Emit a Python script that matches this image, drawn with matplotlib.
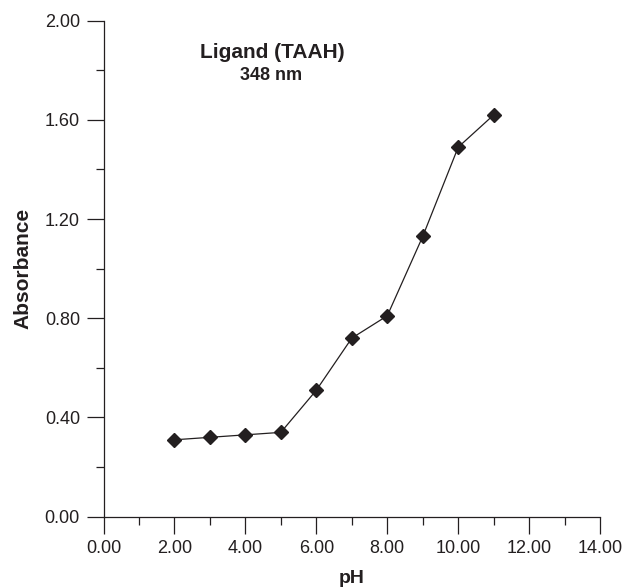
import matplotlib
matplotlib.use('Agg')
import matplotlib.pyplot as plt
from matplotlib.ticker import MultipleLocator, FormatStrFormatter

ph = [2, 3, 4, 5, 6, 7, 8, 9, 10, 11]
absorbance = [0.31, 0.32, 0.33, 0.34, 0.51, 0.72, 0.81, 1.13, 1.49, 1.62]

ink = '#231f20'
plt.rcParams['font.family'] = ['Liberation Sans', 'DejaVu Sans']

fig = plt.figure(figsize=(6.29, 5.88), dpi=100)
ax = fig.add_axes([0.1646, 0.1213, 0.7894, 0.8435])

ax.plot(ph, absorbance, color=ink, lw=0.9, marker='D', ms=7.5,
        mfc=ink, mec=ink, clip_on=False)

ax.set_xlim(0, 14)
ax.set_ylim(0, 2.0)
ax.xaxis.set_major_locator(MultipleLocator(2))
ax.xaxis.set_minor_locator(MultipleLocator(1))
ax.yaxis.set_major_locator(MultipleLocator(0.4))
ax.yaxis.set_minor_locator(MultipleLocator(0.2))
ax.xaxis.set_major_formatter(FormatStrFormatter('%.2f'))
ax.yaxis.set_major_formatter(FormatStrFormatter('%.2f'))

for side in ['top', 'right']:
    ax.spines[side].set_visible(False)
for side in ['left', 'bottom']:
    ax.spines[side].set_color(ink)
    ax.spines[side].set_linewidth(0.9)

ax.tick_params(which='major', length=12, width=0.9, color=ink,
               labelsize=13, labelcolor=ink, pad=5)
ax.tick_params(which='minor', length=6, width=0.9, color=ink)

ax.set_xlabel('pH', fontsize=14, fontweight='bold', color=ink, labelpad=9)
ax.set_ylabel('Absorbance', fontsize=15, fontweight='bold', color=ink, labelpad=9)

fig.text(272 / 629, 1 - 53 / 588, 'Ligand (TAAH)', ha='center', va='center',
         fontsize=15, fontweight='bold', color=ink)
fig.text(271 / 629, 1 - 75 / 588, '348 nm', ha='center', va='center',
         fontsize=13, fontweight='bold', color=ink)

fig.savefig('out.png', dpi=100)
